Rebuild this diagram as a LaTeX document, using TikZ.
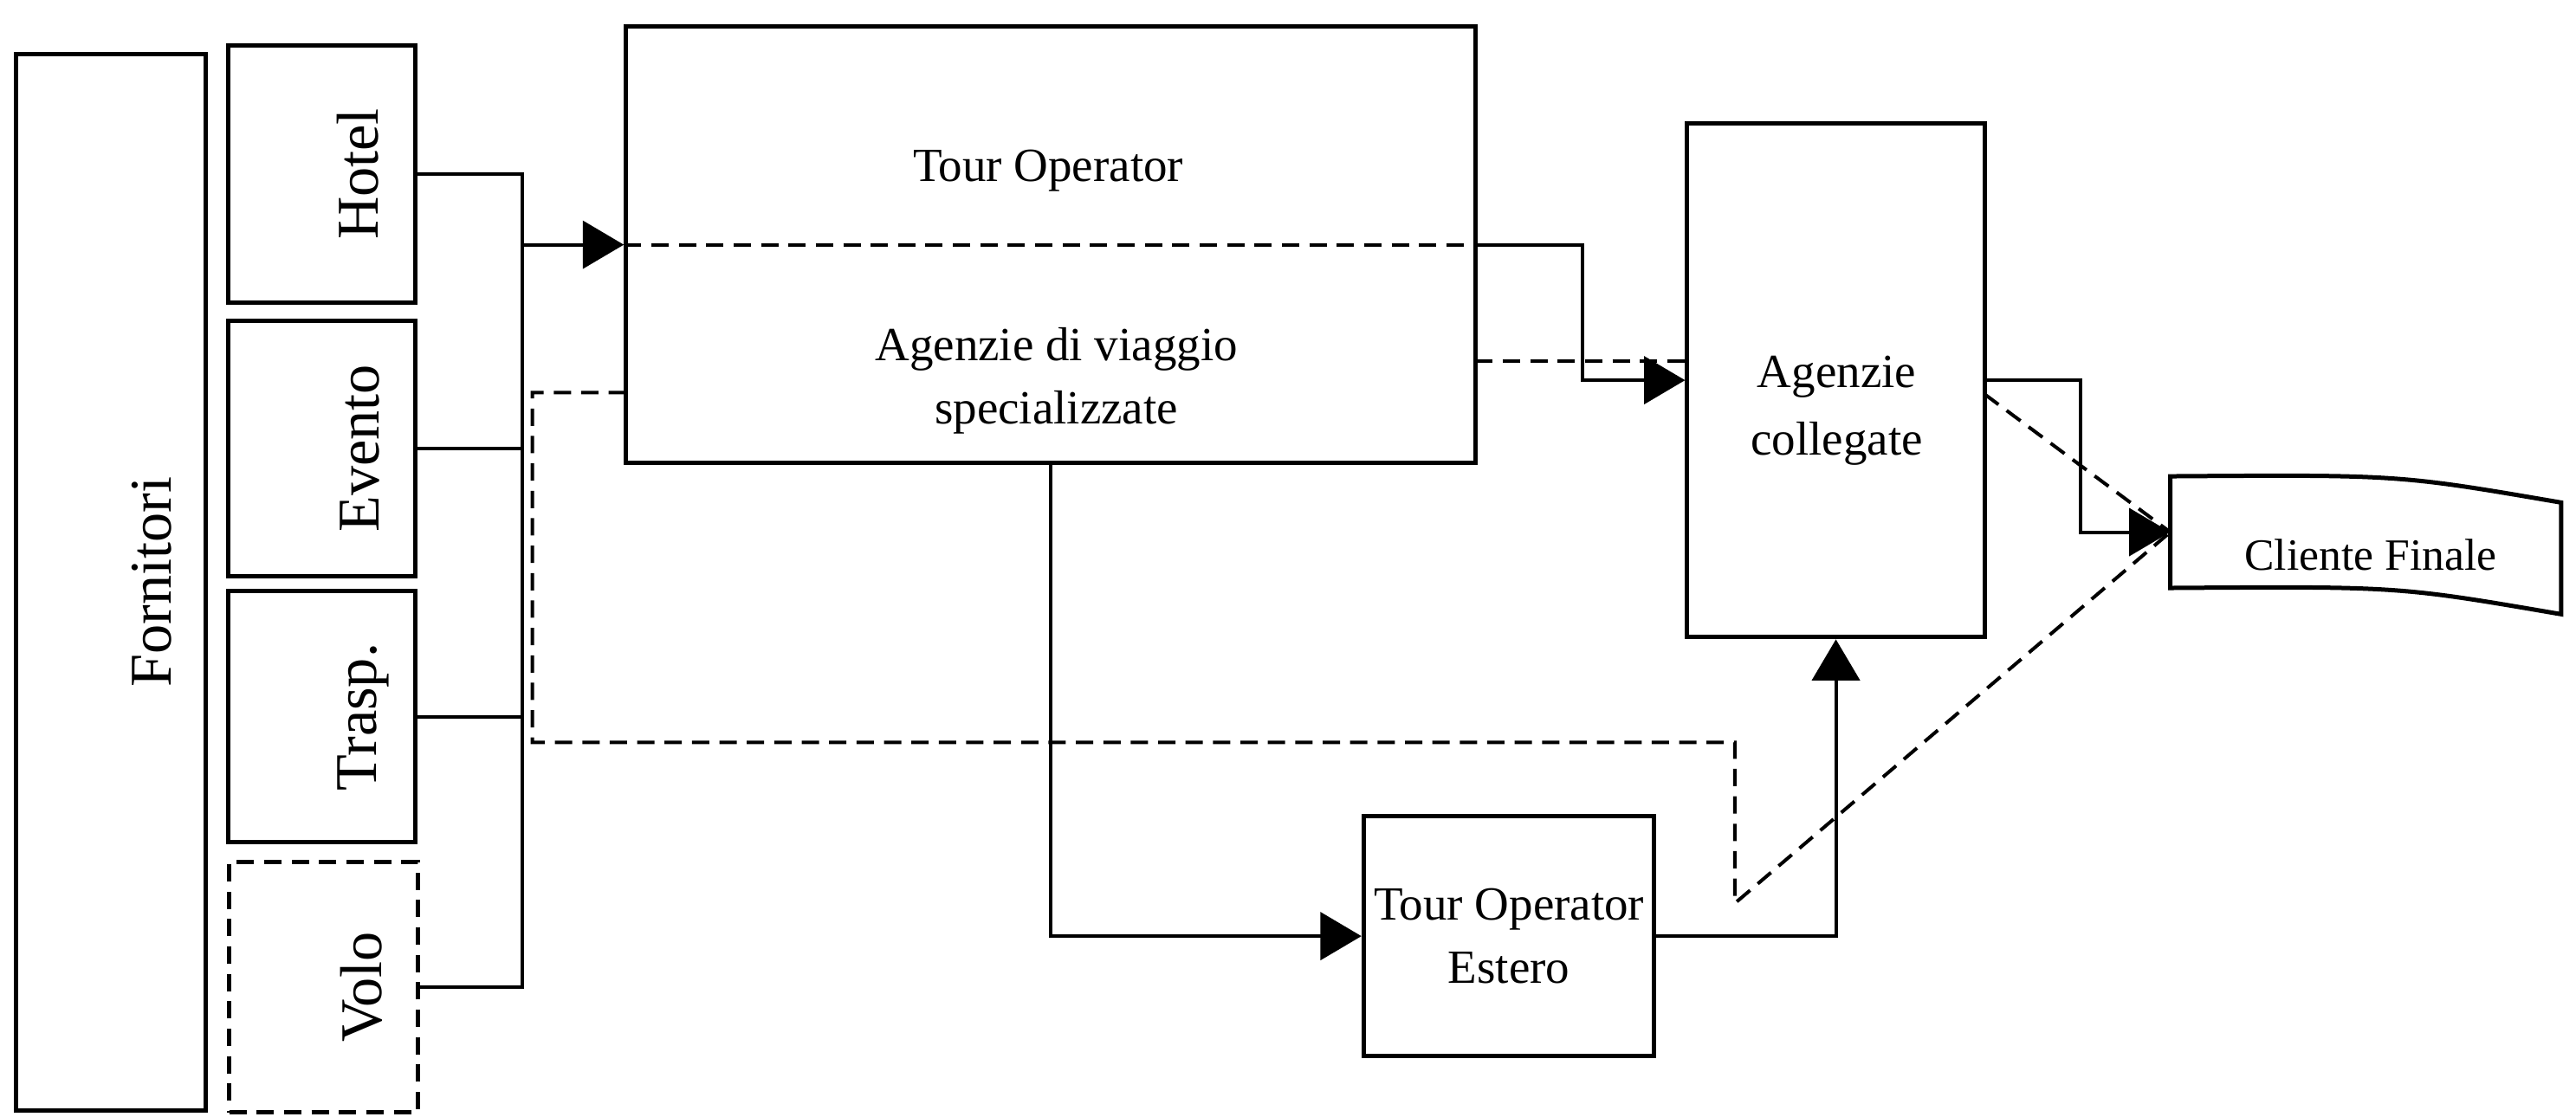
\documentclass[tikz,border=0pt]{standalone}
\usepackage{fontspec}
\setmainfont{Liberation Serif}
\usetikzlibrary{arrows.meta}

\begin{document}
\begin{tikzpicture}[x=0.02cm, y=-0.02cm,
  box/.style={draw, line width=1.5pt, inner sep=0pt},
  dbox/.style={box, dash pattern=on 6pt off 3.5pt},
  link/.style={line width=1.2pt},
  dlink/.style={line width=1.2pt, dash pattern=on 6pt off 3.5pt},
  arr/.style={link, -{Triangle[length=0.5cm, width=0.58cm]}},
  vlabel/.style={rotate=90, font=\fontsize{20.5}{24}\selectfont},
  txt/.style={align=center, font=\fontsize{16.5}{22}\selectfont}]
  \useasboundingbox (0,0) rectangle (1568,680);

  % suppliers
  \node[box, minimum width=2.3cm, minimum height=12.86cm] (forn) at (67.5,354.5) {};
  \node[vlabel] at ([xshift=0.5cm]forn.center) {Fornitori};

  \node[box, minimum width=2.28cm, minimum height=3.13cm] (hotel) at (196,106) {};
  \node[box, minimum width=2.28cm, minimum height=3.11cm] (evento) at (196,273) {};
  \node[box, minimum width=2.28cm, minimum height=3.06cm] (trasp) at (196,436.5) {};
  \node[dbox, minimum width=2.3cm, minimum height=3.05cm] (volo) at (197,601) {};

  \node[vlabel] at ([xshift=0.44cm]hotel.center) {Hotel};
  \node[vlabel] at ([xshift=0.46cm]evento.center) {Evento};
  \node[vlabel] at ([xshift=0.5cm]trasp.center) {Trasp.};
  \node[vlabel] at ([xshift=0.46cm]volo.center) {Volo};

  % operators
  \node[box, minimum width=10.34cm, minimum height=5.32cm] (to) at (639.5,149) {};
  \node[txt] at (638,104) {Tour Operator};
  \node[txt] at (643,232) {Agenzie di viaggio\\specializzate};

  \node[box, minimum width=3.62cm, minimum height=6.26cm] (ac) at (1117.5,231.5) {};
  \node[txt, font=\fontsize{16.5}{23.5}\selectfont] at (1118,250) {Agenzie\\collegate};

  \node[box, txt, minimum width=3.54cm, minimum height=2.92cm] (toe) at (918.5,570) {Tour Operator\\Estero};

  % final client
  \node[txt, font=\fontsize{15.5}{18}\selectfont] (cf) at (1443,338) {Cliente Finale};
  \draw[line width=1.5pt] (1321,290) .. controls (1460,289) .. (1559,306) -- (1559,374)
    .. controls (1460,357) .. (1321,358) -- cycle;
  \coordinate (cfw) at (1321,324);

  % supplier bus
  \coordinate (bus) at (318,0);
  \draw[link] (hotel.east) -- (hotel.east -| bus) -- (volo.east -| bus) -- (volo.east);
  \draw[link] (evento.east) -- (evento.east -| bus);
  \draw[link] (trasp.east) -- (trasp.east -| bus);
  \draw[arr] (to.west -| bus) -- (to.west);

  % divider
  \draw[dlink] (to.west) -- (to.east);

  % solid flows
  \draw[arr] (to.east) -- ++(64,0) |- (ac.west);
  \draw[arr] (ac.east) -- ++(57,0) |- (cfw);
  \draw[arr] (to.south) |- (toe.west);
  \draw[arr] (toe.east) -| (ac.south);

  % dashed flows
  \coordinate (dto) at (898,220);
  \draw[dlink] (dto) -- (dto -| ac.west);
  \coordinate (dac) at (1208,240);
  \draw[dlink] (dac) -- (cfw);
  \coordinate (dtw) at (381,239);
  \draw[dlink] (dtw) -- ++(-57,0) |- (1056,452) -- ++(0,98) -- (cfw);
\end{tikzpicture}
\end{document}
